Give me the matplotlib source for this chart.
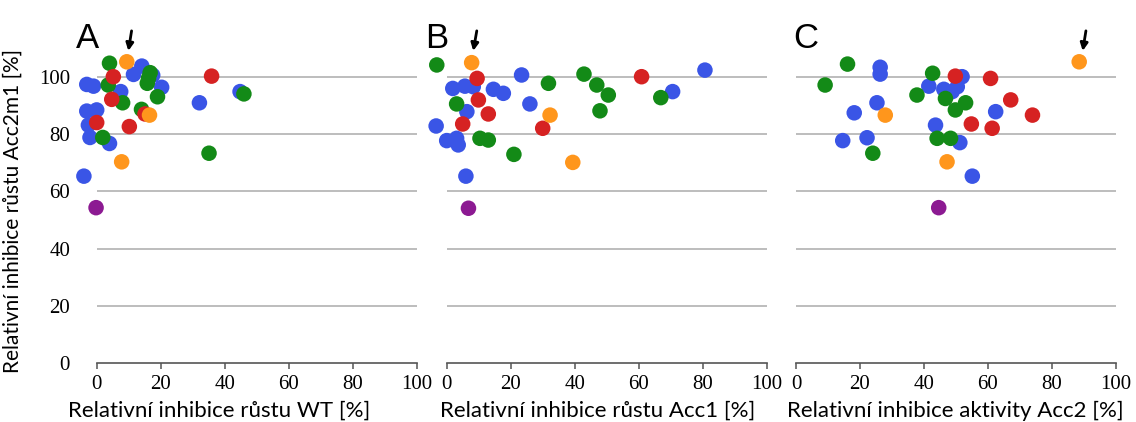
import matplotlib
matplotlib.use("Agg")
import matplotlib.pyplot as plt

# colour groups: 0 blue, 1 green, 2 red, 3 orange, 4 purple
colors = ["#3a55e6", "#138a17", "#d62222", "#ff961c", "#8c1a92"]

# panel A - growth inhibition WT
a_x = [-3.1, -1.0, -3.1, 0.0, -2.6, -2.1, 4.0, -4.0, 14.1, 11.5, 20.3, 7.5, 32.1, 44.8, 17.5,
       4.0, 3.6, 8.1, 1.9, 16.7, 15.8, 19.0, 14.0, 35.1, 46.0, 16.2,
       5.2, 4.7, 0.0, 10.2, 15.1, 35.9,
       9.4, 7.8, 16.5,
       -0.2]
a_y = [97.3, 96.7, 88.0, 88.4, 83.1, 78.8, 76.7, 65.3, 103.7, 100.8, 96.3, 94.8, 90.9, 94.8, 100.5,
       104.7, 97.1, 90.9, 78.8, 101.4, 97.7, 93.0, 88.6, 73.3, 94.0, 99.5,
       100.0, 92.1, 84.0, 82.6, 87.0, 100.2,
       105.2, 70.3, 86.6,
       54.3]
a_grp = [0] * 15 + [1] * 11 + [2] * 6 + [3] * 3 + [4]

# panel B - growth inhibition Acc1
b_x = [-3.3, 1.9, 5.7, 8.3, 6.3, 14.6, 17.7, 23.4, 26.0, 0.0, 3.1, 3.6, 6.0, 70.6, 80.7,
       -3.1, 3.1, 10.4, 13.0, 21.0, 31.8, 42.9, 46.9, 50.5, 47.9, 66.9,
       9.5, 9.9, 13.0, 5.0, 30.0, 60.9,
       7.8, 32.3, 39.4,
       6.8]
b_y = [82.8, 95.9, 96.7, 96.5, 87.8, 95.6, 94.2, 100.6, 90.5, 77.7, 78.5, 76.2, 65.3, 94.8, 102.3,
       104.1, 90.5, 78.5, 77.9, 72.9, 97.7, 100.9, 97.1, 93.6, 88.1, 92.7,
       99.4, 91.9, 87.0, 83.5, 82.0, 100.0,
       104.9, 86.6, 70.1,
       54.1]
b_grp = [0] * 15 + [1] * 11 + [2] * 6 + [3] * 3 + [4]

# panel C - activity inhibition Acc2
c_x = [26.3, 26.3, 25.3, 18.2, 14.6, 22.2, 41.5, 46.2, 48.8, 50.4, 51.9, 43.6, 51.2, 55.1, 62.4,
       9.1, 16.1, 24.0, 37.8, 42.7, 46.7, 49.8, 53.0, 44.1, 48.3,
       49.8, 60.8, 67.1, 73.9, 54.8, 61.3,
       88.5, 27.9, 47.2,
       44.6]
c_y = [103.3, 100.9, 90.9, 87.4, 77.7, 78.7, 96.7, 95.6, 94.8, 96.5, 100.0, 83.1, 77.0, 65.3, 87.8,
       97.1, 104.4, 73.3, 93.6, 101.2, 92.4, 88.4, 90.9, 78.5, 78.5,
       100.2, 99.4, 91.9, 86.6, 83.5, 82.0,
       105.2, 86.6, 70.3,
       54.3]
c_grp = [0] * 15 + [1] * 10 + [2] * 6 + [3] * 3 + [4]

x_labels = ["Relativní inhibice růstu WT [%]",
            "Relativní inhibice růstu Acc1 [%]",
            "Relativní inhibice aktivity Acc2 [%]"]
y_label = "Relativní inhibice růstu Acc2m1 [%]"
panel_names = ["A", "B", "C"]
# arrow (tail x, head x) pointing at the highlighted compound
arrow_x = [(10.9, 9.9), (9.4, 8.3), (90.6, 89.6)]
ticks = [0, 20, 40, 60, 80, 100]

W, H = 1136, 422
fig = plt.figure(figsize=(W / 100, H / 100), dpi=100)

# pixel positions of x=0 for each panel, 3.2 px per unit
zero_px = [96.7, 446.7, 796.0]
label_center_px = [219, 598, 955]
xmin, xmax = -6, 103
ymin, ymax = -2, 125
bottom_px = 363.3 + 2 * 2.866
top_px = 363.3 - 125 * 2.866
height_px = bottom_px - top_px

panels = [(a_x, a_y, a_grp), (b_x, b_y, b_grp), (c_x, c_y, c_grp)]
for i, (xs, ys, grp) in enumerate(panels):
    left = zero_px[i] + xmin * 3.2
    width = (xmax - xmin) * 3.2
    ax = fig.add_axes([left / W, 1 - bottom_px / H, width / W, height_px / H])
    ax.set_xlim(xmin, xmax)
    ax.set_ylim(ymin, ymax)

    # light grid lines only across 0-100
    ax.hlines([20, 40, 60, 80, 100], 0, 100, color="#b8b8b8", lw=1.3, zorder=1)

    ax.scatter(xs, ys, s=125, c=[colors[g] for g in grp], edgecolors="none",
               zorder=3, clip_on=False)

    for side in ["top", "right", "left"]:
        ax.spines[side].set_visible(False)
    ax.spines["bottom"].set_position(("data", 0))
    ax.spines["bottom"].set_bounds(0, 100)
    ax.spines["bottom"].set_color("#555555")
    ax.spines["bottom"].set_linewidth(1.2)
    ax.set_xticks(ticks)
    ax.set_xticklabels([str(t) for t in ticks], family="Liberation Serif", fontsize=15)
    ax.tick_params(axis="x", direction="out", length=4, width=1.1, color="#555555", pad=4.5)
    ax.set_xlabel(x_labels[i], family="Lato", fontsize=16)
    ax.xaxis.set_label_coords((label_center_px[i] - left) / width, (bottom_px - 401) / height_px)

    if i == 0:
        ax.set_yticks(ticks)
        ax.set_yticklabels([str(t) for t in ticks], family="Liberation Serif", fontsize=15)
        ax.tick_params(axis="y", length=0, pad=(left - 70) * 72 / 100)
        ax.set_ylabel(y_label, family="Lato", fontsize=15)
        ax.yaxis.set_label_coords((23 - left) / width, (bottom_px - 211) / height_px)
    else:
        ax.set_yticks([])

    ax.text(-6.6 if i < 2 else -1.0, 110, panel_names[i], family="Liberation Sans",
            fontsize=25, va="baseline", ha="left")

    tail, head = arrow_x[i]
    ax.annotate("", xy=(head, 109), xytext=(tail, 116),
                arrowprops=dict(arrowstyle="-|>", color="black", lw=2, mutation_scale=11,
                                shrinkA=0, shrinkB=0),
                annotation_clip=False)

fig.savefig("out.png", dpi=100)
